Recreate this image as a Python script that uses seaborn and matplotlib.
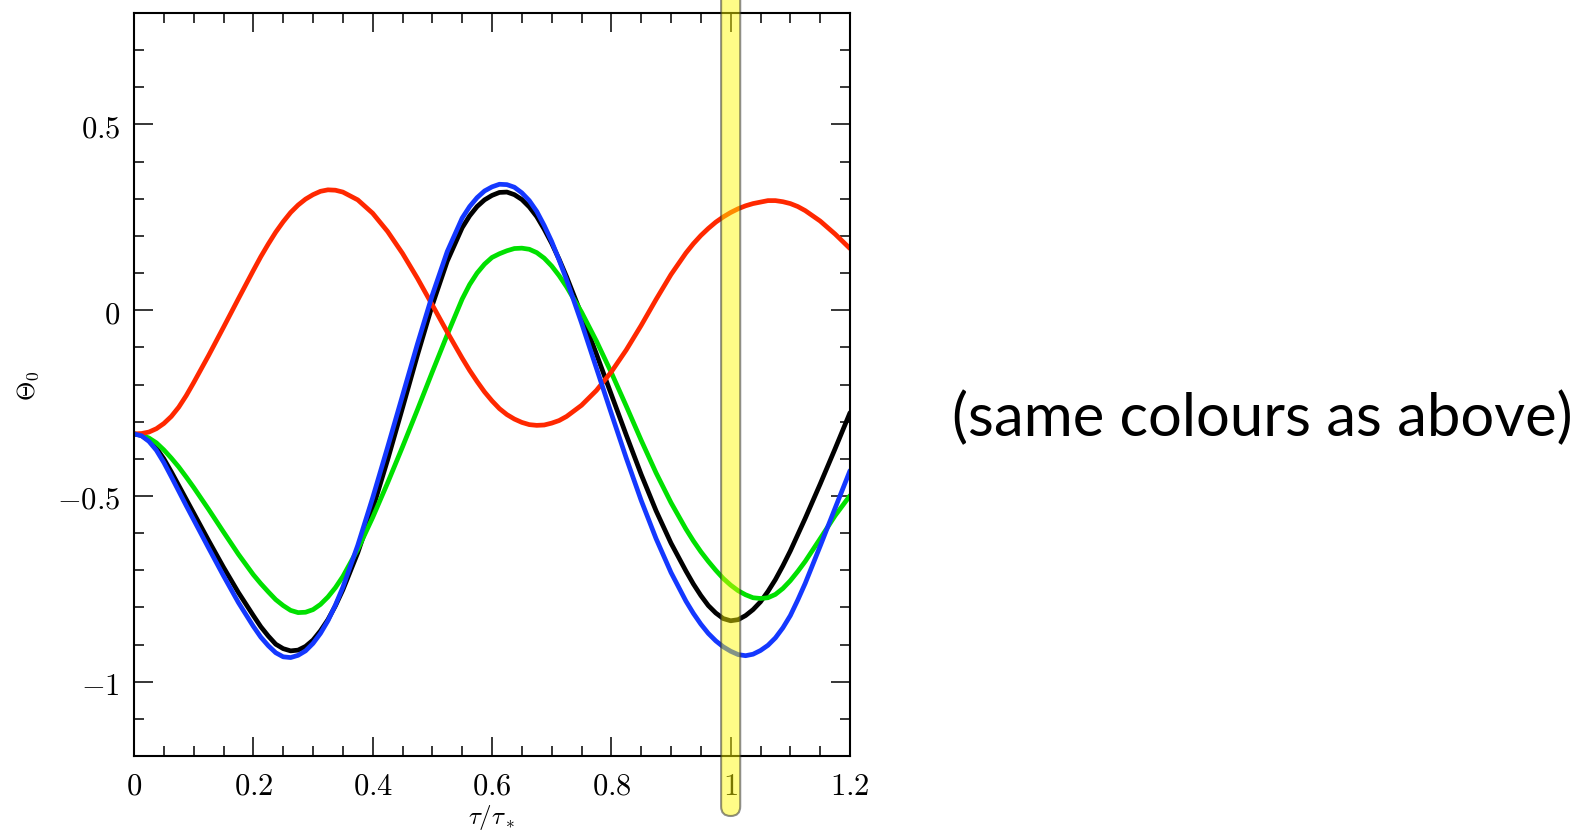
import numpy as np
import pandas as pd
import matplotlib
matplotlib.use("Agg")
import matplotlib.pyplot as plt
import seaborn as sns
from matplotlib.patches import FancyBboxPatch
from matplotlib.ticker import FixedLocator, FixedFormatter, MultipleLocator
from matplotlib.transforms import IdentityTransform

# ---------------- data ----------------
tau = [0.0, 0.0125, 0.025, 0.0375, 0.05, 0.0625, 0.075, 0.0875, 0.1,
       0.125, 0.15, 0.175,
       0.2, 0.2125, 0.225, 0.2375, 0.25, 0.2625, 0.275, 0.2875, 0.3, 0.3125, 0.325, 0.3375, 0.35,
       0.375, 0.4, 0.425, 0.45, 0.475, 0.5, 0.525,
       0.55, 0.5625, 0.575, 0.5875, 0.6, 0.6125, 0.625, 0.6375, 0.65, 0.6625, 0.675, 0.6875,
       0.7, 0.7125, 0.725,
       0.75, 0.775, 0.8, 0.825, 0.85, 0.875, 0.9, 0.925,
       0.9375, 0.95, 0.9625, 0.975, 0.9875, 1.0, 1.0125, 1.025, 1.0375, 1.05, 1.0625, 1.075,
       1.0875, 1.1, 1.1125, 1.125,
       1.15, 1.175, 1.2]

theta_black = [-0.333, -0.337, -0.350, -0.371, -0.400, -0.435, -0.472, -0.509, -0.546,
               -0.620, -0.692, -0.760,
               -0.822, -0.852, -0.877, -0.899, -0.911, -0.917, -0.915, -0.905, -0.888,
               -0.863, -0.833, -0.796, -0.753,
               -0.653, -0.535, -0.403, -0.263, -0.121, 0.014, 0.132,
               0.222, 0.254, 0.279, 0.297, 0.309, 0.317, 0.318, 0.311, 0.298, 0.278,
               0.252, 0.218, 0.180, 0.137, 0.090,
               -0.012, -0.118, -0.227, -0.336, -0.442, -0.540, -0.627, -0.702,
               -0.737, -0.768, -0.795, -0.815, -0.830, -0.836, -0.833, -0.822, -0.806,
               -0.785, -0.757, -0.725, -0.688, -0.648, -0.604, -0.560,
               -0.468, -0.373, -0.276]

theta_green = [-0.333, -0.336, -0.344, -0.357, -0.376, -0.398, -0.422, -0.449, -0.477,
               -0.536, -0.597, -0.657,
               -0.712, -0.736, -0.758, -0.779, -0.795, -0.808, -0.814, -0.813, -0.806,
               -0.792, -0.772, -0.747, -0.717,
               -0.644, -0.558, -0.465, -0.368, -0.268, -0.166, -0.066,
               0.030, 0.069, 0.100, 0.124, 0.142, 0.152, 0.160, 0.166, 0.167, 0.164,
               0.155, 0.140, 0.119, 0.093, 0.063,
               -0.005, -0.083, -0.168, -0.258, -0.350, -0.438, -0.518, -0.589,
               -0.621, -0.650, -0.676, -0.700, -0.722, -0.740, -0.755, -0.766, -0.774,
               -0.776, -0.774, -0.765, -0.749, -0.728, -0.703, -0.676,
               -0.615, -0.553, -0.499]

theta_red = [-0.333, -0.332, -0.328, -0.319, -0.305, -0.286, -0.261, -0.230, -0.195,
             -0.122, -0.046, 0.031,
             0.107, 0.144, 0.178, 0.210, 0.238, 0.263, 0.283, 0.299, 0.311,
             0.320, 0.324, 0.323, 0.318,
             0.297, 0.261, 0.212, 0.153, 0.086, 0.014, -0.059,
             -0.129, -0.162, -0.192, -0.220, -0.244, -0.265, -0.281, -0.293, -0.302, -0.308,
             -0.310, -0.309, -0.304, -0.297, -0.286,
             -0.256, -0.216, -0.166, -0.107, -0.041, 0.029, 0.096, 0.154,
             0.179, 0.201, 0.220, 0.237, 0.251, 0.263, 0.273, 0.281, 0.287,
             0.291, 0.295, 0.295, 0.292, 0.287, 0.279, 0.268,
             0.240, 0.205, 0.166]

theta_blue = [-0.333, -0.338, -0.353, -0.377, -0.410, -0.448, -0.487, -0.526, -0.564,
              -0.640, -0.715, -0.787,
              -0.851, -0.880, -0.903, -0.922, -0.933, -0.935, -0.929, -0.917, -0.897,
              -0.870, -0.836, -0.794, -0.746,
              -0.633, -0.505, -0.369, -0.230, -0.091, 0.041, 0.158,
              0.248, 0.279, 0.303, 0.321, 0.332, 0.339, 0.338, 0.331, 0.316, 0.295,
              0.266, 0.228, 0.185, 0.135, 0.082,
              -0.034, -0.156, -0.278, -0.398, -0.512, -0.615, -0.706, -0.783,
              -0.816, -0.845, -0.870, -0.890, -0.906, -0.918, -0.927, -0.930, -0.926,
              -0.916, -0.902, -0.882, -0.855, -0.822, -0.780, -0.735,
              -0.635, -0.533, -0.432]

series_names = ["black", "green", "red", "blue"]
series_colors = {"black": "#000000", "green": "#00e000", "red": "#ff2800", "blue": "#1438ff"}

xticks = [0.0, 0.2, 0.4, 0.6, 0.8, 1.0, 1.2]
xticklabels = ["0", "0.2", "0.4", "0.6", "0.8", "1", "1.2"]
yticks = [-1.0, -0.5, 0.0, 0.5]
yticklabels = ["-1", "-0.5", "0", "0.5"]
highlight_tau = 1.0
side_note = "(same colours as above)"

# ---------------- build the figure ----------------
sns.set_theme(style="ticks")
plt.rcParams["mathtext.fontset"] = "cm"
plt.rcParams["font.family"] = ["DejaVu Serif"]

df = pd.concat([
    pd.DataFrame({"tau": tau, "theta": theta_black, "series": "black"}),
    pd.DataFrame({"tau": tau, "theta": theta_green, "series": "green"}),
    pd.DataFrame({"tau": tau, "theta": theta_red, "series": "red"}),
    pd.DataFrame({"tau": tau, "theta": theta_blue, "series": "blue"}),
], ignore_index=True)

fig = plt.figure(figsize=(15.8, 8.37), dpi=100)
fig.patch.set_facecolor("white")
ax = fig.add_axes([134 / 1580, 80 / 837, 716 / 1580, 743 / 837])

sns.lineplot(data=df, x="tau", y="theta", hue="series", hue_order=series_names,
             palette=series_colors, linewidth=3.4, legend=False, ax=ax,
             estimator=None, sort=False)
for ln in ax.get_lines():
    ln.set_solid_joinstyle("round")
    ln.set_solid_capstyle("round")

ax.set_xlim(0, 1.2)
ax.set_ylim(-1.2, 0.8)

ax.xaxis.set_major_locator(FixedLocator(xticks))
ax.xaxis.set_major_formatter(FixedFormatter([f"${t}$" for t in xticklabels]))
ax.xaxis.set_minor_locator(MultipleLocator(0.05))
ax.yaxis.set_major_locator(FixedLocator(yticks))
ax.yaxis.set_major_formatter(FixedFormatter([f"${t}$" for t in yticklabels]))
ax.yaxis.set_minor_locator(MultipleLocator(0.1))

ax.tick_params(which="both", direction="in", top=True, right=True,
               color="black", width=1.1)
ax.tick_params(which="major", length=13.5, labelsize=22, pad=10, labelcolor="black")
ax.tick_params(which="minor", length=7)
for sp in ax.spines.values():
    sp.set_visible(True)
    sp.set_color("black")
    sp.set_linewidth(1.5)

ax.set_xlabel(r"$\tau/\tau_*$", fontsize=18, color="black")
ax.xaxis.set_label_coords(0.5, -0.062)
ax.set_ylabel(r"$\Theta_0$", fontsize=18, color="black")
ax.yaxis.set_label_coords(-0.13, 0.5)

# highlight band at tau = 1 (drawn over the axes, extends past them)
x_left = ax.transData.transform((highlight_tau - 0.016, 0))[0]
x_right = ax.transData.transform((highlight_tau + 0.016, 0))[0]
ax_bottom = ax.transAxes.transform((0, 0))[1]
band_bottom = ax_bottom - 60
band_top = fig.bbox.height + 40
band = FancyBboxPatch((x_left, band_bottom), x_right - x_left, band_top - band_bottom,
                      boxstyle="round,pad=0,rounding_size=9.5",
                      transform=IdentityTransform(),
                      facecolor=(1.0, 0.98, 0.0, 0.47),
                      edgecolor=(0.2, 0.2, 0.2, 0.55), linewidth=1.5,
                      zorder=10, clip_on=False)
fig.add_artist(band)

fig.text(0.7987, 0.50, side_note, fontsize=43, family=["Lato", "DejaVu Sans"],
         ha="center", va="center", color="black")

fig.savefig("out.png", dpi=100, facecolor="white")
